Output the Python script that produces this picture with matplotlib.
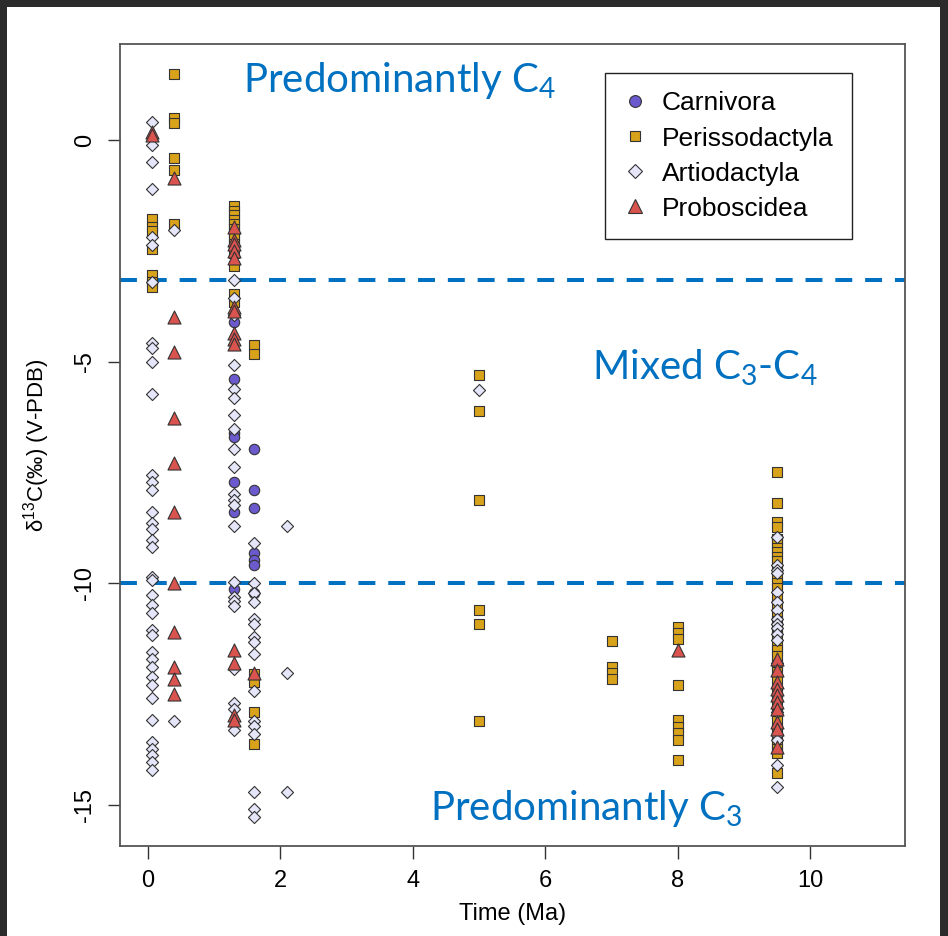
import matplotlib
matplotlib.use("Agg")
import matplotlib.pyplot as plt
from matplotlib.patches import Rectangle
from matplotlib.lines import Line2D

# ---------------- data ----------------
carn_t = [1.3]*7 + [1.6]*7
carn_d = [-4.10, -5.40, -6.62, -6.70, -7.71, -8.39, -10.12,
          -6.98, -7.90, -8.31, -9.31, -9.48, -9.59, -10.21]

peri_t = ([0.07]*7 + [0.4]*6 + [1.3]*13 + [1.6]*6 + [5.0]*6 + [7.0]*4 +
          [8.0]*9 + [9.5]*37)
peri_d = [-1.78, -1.95, -2.05, -2.45, -3.05, -3.20, -3.32,
          1.49, 0.49, 0.38, -0.41, -0.68, -1.90,
          -1.49, -1.60, -1.70, -1.80, -1.90, -2.00, -2.10, -2.20, -2.35, -2.55, -2.84, -3.48, -3.65,
          -4.63, -4.82, -12.04, -12.23, -12.90, -13.62,
          -5.30, -6.12, -8.11, -10.61, -10.91, -13.12,
          -11.31, -11.89, -12.02, -12.15,
          -10.99, -11.12, -11.25, -12.30, -13.09, -13.24, -13.39, -13.53, -14.00,
          -7.50, -8.20, -8.61, -8.73, -9.00, -9.10, -9.20, -9.30, -9.40, -9.50, -9.65, -9.85,
          -10.00, -10.10, -10.30, -10.50, -10.70, -10.85, -11.00, -11.20, -11.40, -11.50,
          -11.65, -11.85, -12.00, -12.20, -12.45, -12.60, -12.75, -12.95, -13.10, -13.30,
          -13.45, -13.60, -13.75, -13.84, -14.29]

artio_t = [0.07]*38 + [0.4]*2 + [1.3]*22 + [1.6]*16 + [2.1]*3 + [5.0] + [9.5]*18
artio_d = [0.40, -0.11, -0.50, -1.11, -2.18, -2.37, -3.20, -4.58, -4.68, -5.00, -5.72,
           -7.56, -7.71, -7.90, -8.39, -8.65, -8.77, -9.03, -9.18, -9.86, -9.93,
           -10.27, -10.50, -10.68, -11.06, -11.17, -11.55, -11.70, -11.89, -12.11,
           -12.30, -12.60, -13.09, -13.58, -13.73, -13.88, -14.03, -14.22,
           -2.02, -13.12,
           -3.16, -3.57, -3.95, -5.08, -5.61, -5.81, -6.21, -6.51, -6.98, -7.37, -7.98,
           -8.13, -8.24, -8.71, -9.97, -10.31, -10.40, -10.52, -11.93, -12.70, -12.83, -13.32,
           -9.10, -9.99, -10.23, -10.42, -10.80, -10.91, -11.21, -11.33, -11.60, -12.43,
           -13.11, -13.23, -13.41, -14.71, -15.09, -15.28,
           -8.71, -12.02, -14.71,
           -5.63,
           -8.95, -9.59, -9.71, -9.78, -10.20, -10.42, -10.61, -10.80, -10.91, -11.02,
           -11.14, -11.29, -11.80, -12.90, -13.43, -13.54, -14.11, -14.60]

prob_t = [0.07]*2 + [0.4]*11 + [1.3]*14 + [1.6] + [8.0] + [9.5]*10
prob_d = [0.19, 0.11,
          -0.86, -3.99, -4.78, -6.28, -7.28, -8.39, -9.99, -11.10, -11.89, -12.17, -12.49,
          -1.96, -2.26, -2.35, -2.50, -2.67, -3.76, -3.85, -4.36, -4.48, -4.59,
          -11.50, -11.80, -12.98, -13.08,
          -12.02,
          -11.50,
          -11.70, -11.96, -12.23, -12.38, -12.53, -12.68, -12.83, -13.13, -13.28, -13.69]

thresholds = [-3.15, -10.0]
x_ticks = [0, 2, 4, 6, 8, 10]
y_ticks = [0, -5, -10, -15]

# ---------------- style ----------------
plt.rcParams["font.family"] = ["Liberation Sans", "DejaVu Sans"]
plt.rcParams["axes.unicode_minus"] = False
plt.rcParams["mathtext.default"] = "regular"

BLUE = "#0070C0"
C_CARN = "#6A5ACD"
C_PERI = "#D9A21B"
C_ARTI = "#E6E6FA"
C_PROB = "#D9534F"
EDGE = "#333333"

fig = plt.figure(figsize=(9.48, 9.36), dpi=100)
fig.patch.set_facecolor("white")
for r in [(0, 1 - 7/936, 1, 7/936), (0, 0, 7/948, 1), (1 - 8/948, 0, 8/948, 1)]:
    fig.patches.append(Rectangle((r[0], r[1]), r[2], r[3], transform=fig.transFigure,
                                 facecolor="#2b2b2b", edgecolor="none", zorder=0))

ax = fig.add_axes([120/948, 1 - 846/936, (905-120)/948, (846-44)/936])
ax.set_xlim(-0.42, 11.43)
ax.set_ylim(-15.93, 2.17)

for t in thresholds:
    ax.axhline(t, color=BLUE, lw=2.9, dashes=(4.2, 3.2), zorder=1)

ax.scatter(peri_t, peri_d, marker="s", s=48, facecolor=C_PERI, edgecolor=EDGE, linewidth=0.8, zorder=2)
ax.scatter(carn_t, carn_d, marker="o", s=56, facecolor=C_CARN, edgecolor=EDGE, linewidth=0.8, zorder=3)
ax.scatter(artio_t, artio_d, marker="D", s=38, facecolor=C_ARTI, edgecolor=EDGE, linewidth=0.8, zorder=4)
ax.scatter(prob_t, prob_d, marker="^", s=88, facecolor=C_PROB, edgecolor=EDGE, linewidth=0.8, zorder=5)

ax.set_xticks(x_ticks)
ax.set_yticks(y_ticks)
ax.tick_params(axis="both", direction="out", length=9, width=1, color="#333333",
               labelsize=17, pad=8)
for lab in ax.get_yticklabels():
    lab.set_rotation(90)
    lab.set_va("center")
for sp in ax.spines.values():
    sp.set_color("#555555")
    sp.set_linewidth(1.3)

ax.set_xlabel("Time (Ma)", fontsize=17, labelpad=8)
ax.set_ylabel("δ$^{13}$C(‰) (V-PDB)", fontsize=16, labelpad=16)

tf = dict(color=BLUE, fontsize=29, family=["Lato", "DejaVu Sans"], va="center", ha="left")
ax.text(1.43, 1.35, "Predominantly C$_4$", **tf)
ax.text(6.71, -5.15, "Mixed C$_3$-C$_4$", **tf)
ax.text(4.26, -15.08, "Predominantly C$_3$", **tf)

handles = [
    Line2D([], [], ls="none", marker="o", ms=8.5, mfc=C_CARN, mec=EDGE, mew=0.8),
    Line2D([], [], ls="none", marker="s", ms=7.6, mfc=C_PERI, mec=EDGE, mew=0.8),
    Line2D([], [], ls="none", marker="D", ms=7.4, mfc=C_ARTI, mec=EDGE, mew=0.8),
    Line2D([], [], ls="none", marker="^", ms=10.5, mfc=C_PROB, mec=EDGE, mew=0.8),
]
leg = ax.legend(handles, ["Carnivora", "Perissodactyla", "Artiodactyla", "Proboscidea"],
                loc="upper right", bbox_to_anchor=((852-120)/785, (846-73)/802),
                fontsize=19, frameon=True, fancybox=False, framealpha=1,
                edgecolor="#222222", handlelength=0.9, handletextpad=0.55,
                labelspacing=0.42, borderpad=0.7, borderaxespad=0)
leg.get_frame().set_linewidth(1.0)
leg.set_zorder(6)

fig.savefig("out.png", dpi=100)
